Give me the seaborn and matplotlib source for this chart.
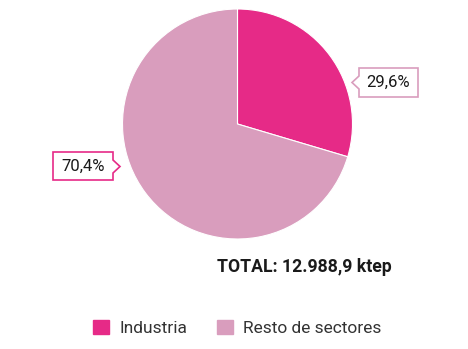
import matplotlib
matplotlib.use("Agg")
import matplotlib.pyplot as plt
import seaborn as sns
from matplotlib.patches import Polygon, Patch

categories = ["Industria", "Resto de sectores"]
values = [29.6, 70.4]
labels = ["29,6%", "70,4%"]
total_text = "TOTAL: 12.988,9 ktep"
colors = ["#E62A87", "#D99DBD"]

sns.set_theme(style="white")
plt.rcParams["font.family"] = ["Roboto", "DejaVu Sans"]

W, H = 468, 349
fig = plt.figure(figsize=(W / 100, H / 100), dpi=100)
ax = fig.add_axes([0, 0, 1, 1])

cx, cy, r = 237.5, H - 124, 115
ax.pie(values, colors=colors, startangle=90, counterclock=False,
       center=(cx, cy), radius=r,
       wedgeprops=dict(edgecolor="white", linewidth=0.8))
ax.set_xlim(0, W)
ax.set_ylim(0, H)
ax.set_aspect("equal")
ax.axis("off")


def callout(x0, x1, y0, y1, side, tip, n0, n1, color, text):
    Y = lambda y: H - y
    if side == "left":
        pts = [(x0, y0), (x1, y0), (x1, y1), (x0, y1), (x0, n1), (tip, (n0 + n1) / 2), (x0, n0)]
    else:
        pts = [(x0, y0), (x1, y0), (x1, n0), (tip, (n0 + n1) / 2), (x1, n1), (x1, y1), (x0, y1)]
    pts = [(px, Y(py)) for px, py in pts]
    ax.add_patch(Polygon(pts, closed=True, facecolor="white", edgecolor=color, linewidth=1.2, zorder=5))
    ax.text((x0 + x1) / 2, Y((y0 + y1) / 2), text, ha="center", va="center",
            fontsize=12, color="#1a1a1a", fontweight="normal", zorder=6)


callout(359, 418, 68, 97, "left", 352, 76, 89, colors[1], labels[0])
callout(53, 113, 152, 180, "right", 120, 160, 173, colors[0], labels[1])

ax.text(304, H - 267, total_text, ha="center", va="center", fontsize=12.7,
        fontweight="bold", color="#1a1a1a")

handles = [Patch(facecolor=c, edgecolor=c) for c in colors]
ax.legend(handles, categories, loc="center", bbox_to_anchor=(237.5 / W, 1 - 328 / H),
          ncol=2, frameon=False, fontsize=12.5, handlelength=0.92, handleheight=0.92,
          handletextpad=0.57, columnspacing=1.75, labelcolor="#333333")

fig.savefig("out.png", dpi=100)
